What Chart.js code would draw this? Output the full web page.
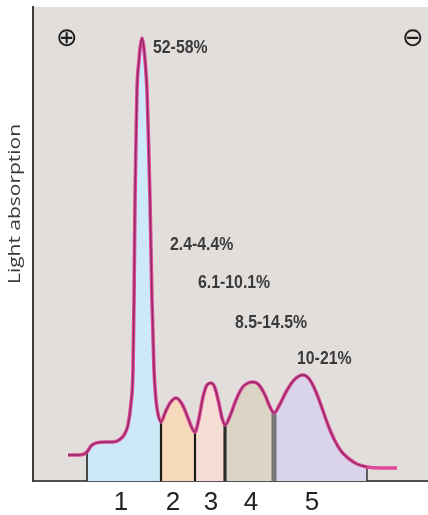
<!DOCTYPE html>
<html>
<head>
<meta charset="utf-8">
<script src="https://cdn.jsdelivr.net/npm/chart.js@4.4.1/dist/chart.umd.min.js"></script>
<style>
  html, body { margin: 0; padding: 0; background: #fff; }
</style>
</head>
<body>
<canvas id="chart" width="428" height="515"></canvas>
<script>
// Dados ------------------------------------------------------------------------
const fractions = ["1", "2", "3", "4", "5"];
const fractionRanges = ["52-58%", "2.4-4.4%", "6.1-10.1%", "8.5-14.5%", "10-21%"];
const fractionTicks = [88, 140, 178, 218, 279];

// migração (eixo x) x absorção de luz (eixo y)
const mobility = [
  35, 45, 51, 54, 58, 63, 72, 80, 86, 91, 95, 98, 100, 101, 102, 103, 104, 106, 107.5,
  109, 110.5, 112, 114, 115.5, 117, 119, 121, 123, 125, 128,
  132, 137, 143, 149, 155, 159, 162,
  166, 170, 174, 178, 182, 186, 189, 192,
  197, 203, 209, 215, 220, 226, 232, 237, 241,
  246, 253, 261, 270, 277, 283, 289, 295, 301, 308, 315, 324, 334, 347, 364
];
const absorption = [
  26, 26, 27, 29, 35, 38, 39, 39, 41, 46, 56, 78, 111, 181, 281, 341, 391, 421, 436,
  443, 436, 421, 391, 341, 281, 181, 111, 81, 67, 59,
  68, 78, 83, 77, 63, 53, 49,
  63, 84, 96, 98, 93, 77, 63, 56,
  65, 81, 93, 98, 99, 96, 86, 74, 68,
  75, 89, 101, 106, 101, 89, 73, 56, 42, 30, 23, 17, 14, 13, 13
];

// limites entre as frações (x)
const cuts = [54, 128, 162, 192, 241, 334];

// Estilos -----------------------------------------------------------------------
const fillColors = ["#cde8f6", "#f6d9bb", "#f5ddd6", "#dcd5c6", "#d9d4ea"];
const cutStyles = [
  { color: "#222", width: 1.6 },
  { color: "#1a1a1a", width: 2.2 },
  { color: "#1a1a1a", width: 2.2 },
  { color: "#2e2e2e", width: 3.2 },
  { color: "#777", width: 5 },
  { color: "#333", width: 1.5 }
];
// posição dos rótulos de % (unidades dos eixos: canto esquerdo, meio)
const rangeLabelAt = [[120, 433], [137, 236], [165, 198], [202, 158], [264, 122]];

const curve = mobility.map((x, i) => ({ x, y: absorption[i] }));
const yAt = v => absorption[mobility.indexOf(v)];

// Datasets ----------------------------------------------------------------------
const datasets = [];

// linha escura central (não vai até a cauda da direita)
datasets.push({
  data: curve.filter(p => p.x <= cuts[cuts.length - 1]),
  borderColor: "#8a2a5e", borderWidth: 1.3, fill: false, order: 0
});
// linha rosa
datasets.push({
  data: curve, borderColor: "#e0489a", borderWidth: 3.6, fill: false, order: 0
});

// divisões verticais
cuts.forEach((c, i) => {
  datasets.push({
    data: [{ x: c, y: 0 }, { x: c, y: yAt(c) }],
    borderColor: cutStyles[i].color, borderWidth: cutStyles[i].width,
    borderCapStyle: "butt", tension: 0, fill: false, order: 1
  });
});

// áreas preenchidas de cada fração
fillColors.forEach((col, i) => {
  datasets.push({
    data: curve.filter(p => p.x >= cuts[i] && p.x <= cuts[i + 1]),
    borderWidth: 0, borderColor: "rgba(0,0,0,0)", backgroundColor: col,
    fill: "origin", order: 2
  });
});

// Plugin: fundo, rótulos, título do eixo ---------------------------------------
const annotate = {
  id: "annotate",
  beforeDraw(chart) {
    const { ctx, chartArea: a } = chart;
    ctx.save();
    ctx.fillStyle = "#fff";
    ctx.fillRect(0, 0, chart.width, chart.height);
    ctx.fillStyle = "#e1dedc";
    ctx.fillRect(a.left, a.top, a.right - a.left, a.bottom - a.top);
    ctx.restore();
  },
  afterDraw(chart) {
    const { ctx, chartArea: a } = chart;
    const sx = chart.scales.x, sy = chart.scales.y;
    ctx.save();

    // faixas percentuais
    ctx.fillStyle = "#3b3b3b";
    ctx.font = 'bold 18px "Liberation Sans"';
    ctx.textBaseline = "middle";
    ctx.textAlign = "left";
    fractionRanges.forEach((t, i) => {
      const [lx, ly] = rangeLabelAt[i];
      ctx.save();
      ctx.translate(sx.getPixelForValue(lx), sy.getPixelForValue(ly));
      ctx.scale(0.88, 1);
      ctx.fillText(t, 0, 0);
      ctx.restore();
    });

    // polos + e -
    ctx.fillStyle = "#1e1e1e";
    ctx.font = '26px "DejaVu Sans"';
    ctx.textAlign = "center";
    ctx.textBaseline = "middle";
    ctx.fillText("\u2295", a.left + 34, a.top + 32);
    ctx.fillText("\u2296", a.right - 15, a.top + 32);

    // título do eixo y
    const title = "Light absorption";
    ctx.font = '17px "Open Sans"';
    ctx.fillStyle = "#3a3a3a";
    ctx.translate(15, 204);
    ctx.rotate(-Math.PI / 2);
    ctx.scale(160 / ctx.measureText(title).width, 1);
    ctx.fillText(title, 0, 0);

    ctx.restore();
  }
};

new Chart(document.getElementById("chart"), {
  type: "line",
  data: { datasets },
  options: {
    responsive: false,
    animation: false,
    devicePixelRatio: 1,
    layout: { padding: { top: 7, right: 0, left: 0, bottom: 0 } },
    elements: {
      point: { radius: 0 },
      line: { tension: 0.4, cubicInterpolationMode: "monotone", borderJoinStyle: "round" }
    },
    plugins: { legend: { display: false }, tooltip: { enabled: false } },
    scales: {
      x: {
        type: "linear", min: 0, max: 395,
        grid: { display: false, drawTicks: false },
        border: { display: true, color: "#505050", width: 2 },
        afterBuildTicks: axis => { axis.ticks = fractionTicks.map(v => ({ value: v })); },
        afterFit: axis => { axis.height = 34; },
        ticks: {
          autoSkip: false, maxRotation: 0, padding: 6,
          color: "#222", font: { family: "Liberation Sans", size: 26 },
          callback: (v, i) => fractions[i]
        }
      },
      y: {
        type: "linear", min: 0, max: 474,
        grid: { display: false, drawTicks: false },
        border: { display: true, color: "#3a3a3a", width: 2 },
        afterFit: axis => { axis.width = 33; },
        ticks: { display: false }
      }
    }
  },
  plugins: [annotate]
});
</script>
</body>
</html>
